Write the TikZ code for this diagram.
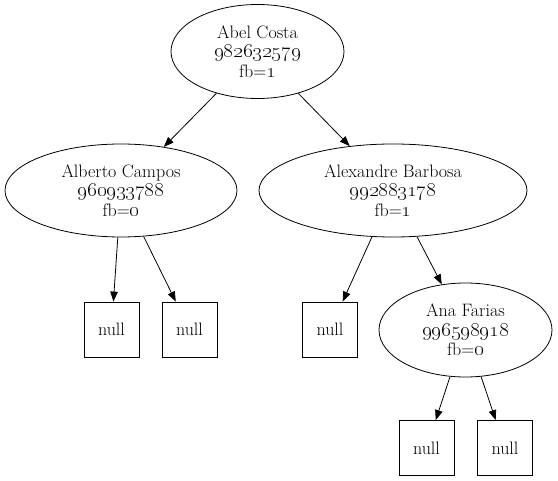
\documentclass[tikz,border=0pt]{standalone}
\usetikzlibrary{shapes.geometric,arrows.meta}
\newcommand{\osn}[1]{{\fontsize{20.74}{19.5}\selectfont\oldstylenums{#1}}}
\tikzset{
  treenode/.style={ellipse, draw, line width=0.8pt, inner sep=0pt, align=center,
    font=\fontsize{18}{19.5}\selectfont},
  nullbox/.style={rectangle, draw, line width=0.8pt, inner sep=0pt,
    minimum width=55pt, minimum height=55pt, font=\fontsize{18}{19.5}\selectfont},
  edge/.style={draw, line width=0.8pt, -{Triangle[length=10pt,width=7.5pt]}}
}
\begin{document}
\begin{tikzpicture}[x=1pt,y=-1pt]
\useasboundingbox (0,0) rectangle (558,481);
\node[treenode, minimum width=173pt, minimum height=94pt] (abel) at (257.5,51.5) {Abel Costa\\\osn{982632579}\\fb=\osn{1}};
\node[treenode, minimum width=232pt, minimum height=93pt] (alberto) at (121,190.5) {Alberto Campos\\\osn{960933788}\\fb=\osn{0}};
\node[treenode, minimum width=268pt, minimum height=93pt] (alex) at (393,190.5) {Alexandre Barbosa\\\osn{992883178}\\fb=\osn{1}};
\node[nullbox] (n1) at (111.5,329.5) {null};
\node[nullbox] (n2) at (189.5,329.5) {null};
\node[nullbox] (n3) at (330,329.5) {null};
\node[treenode, minimum width=173pt, minimum height=94pt] (ana) at (465.5,330) {Ana Farias\\\osn{996598918}\\fb=\osn{0}};
\node[nullbox] (n4) at (426.5,448) {null};
\node[nullbox] (n5) at (505,448) {null};
\draw[edge] (abel) -- (alberto);
\draw[edge] (abel) -- (alex);
\draw[edge] (alberto) -- (n1);
\draw[edge] (alberto) -- (n2);
\draw[edge] (alex) -- (n3);
\draw[edge] (alex) -- (ana);
\draw[edge] (ana) -- (n4);
\draw[edge] (ana) -- (n5);
\end{tikzpicture}
\end{document}
